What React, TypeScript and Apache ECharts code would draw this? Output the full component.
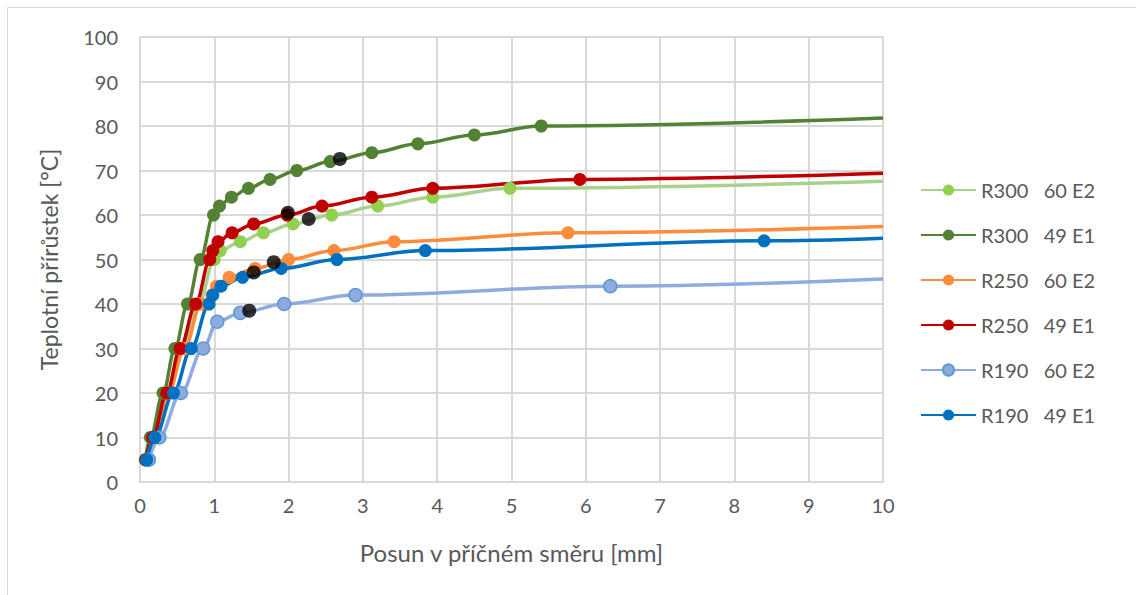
import React, { useEffect, useRef } from "react";
import * as echarts from "echarts";

const seriesNames = ["R300   60 E2", "R300   49 E1", "R250   60 E2", "R250   49 E1", "R190   60 E2", "R190   49 E1"];

const r300e2: number[][] = [[0.1,5],[0.2,10],[0.35,20],[0.56,30],[0.79,40],[1.0,50],[1.08,52],[1.35,54],[1.66,56],[2.06,58],[2.58,60],[3.2,62],[3.94,64],[4.98,66],[10,67.6]];
const r300e1: number[][] = [[0.07,5],[0.14,10],[0.31,20],[0.47,30],[0.64,40],[0.81,50],[0.99,60],[1.07,62],[1.23,64],[1.46,66],[1.75,68],[2.11,70],[2.56,72],[3.12,74],[3.74,76],[4.5,78],[5.4,80],[10,81.8]];
const r250e2: number[][] = [[0.1,5],[0.2,10],[0.38,20],[0.6,30],[0.82,40],[0.97,42],[1.03,44],[1.2,46],[1.55,48],[2.0,50],[2.61,52],[3.42,54],[5.76,56],[10,57.4]];
const r250e1: number[][] = [[0.08,5],[0.17,10],[0.36,20],[0.54,30],[0.75,40],[0.94,50],[0.98,52],[1.05,54],[1.24,56],[1.53,58],[1.98,60],[2.45,62],[3.12,64],[3.94,66],[5.92,68],[10,69.4]];
const r190e2: number[][] = [[0.12,5],[0.26,10],[0.55,20],[0.85,30],[1.04,36],[1.35,38],[1.94,40],[2.9,42],[6.33,44],[10,45.6]];
const r190e1: number[][] = [[0.09,5],[0.2,10],[0.45,20],[0.69,30],[0.93,40],[0.98,42],[1.09,44],[1.38,46],[1.9,48],[2.65,50],[3.84,52],[8.4,54.2],[10,54.8]];
const blackPoints: number[][] = [[2.69,72.6],[1.99,60.5],[2.27,59.1],[1.8,49.4],[1.53,47.1],[1.47,38.5]];

const xTicks = [0, 10, 1];
const yTicks = [0, 100, 10];

const FONT = "Lato, 'Open Sans', sans-serif";

function mk(name: string, data: number[][], line: string, fill: string, border: string) {
  return {
    name,
    type: "line",
    smooth: 0.35,
    smoothMonotone: "x",
    symbol: "circle",
    symbolSize: 13,
    showSymbol: true,
    lineStyle: { color: line, width: 3.5 },
    itemStyle: { color: fill, borderColor: border, borderWidth: border === fill ? 0 : 1.5 },
    data: data.map((p, i) => (i === data.length - 1 ? { value: p, symbol: "none" } : { value: p })),
    emphasis: { disabled: true },
  };
}

export default function App() {
  const ref = useRef<HTMLDivElement>(null);
  useEffect(() => {
    document.body.style.margin = "0";
    const chart = echarts.init(ref.current!, undefined, { renderer: "svg" });
    chart.setOption({
      animation: false,
      backgroundColor: "#ffffff",
      textStyle: { fontFamily: FONT },
      graphic: [
        { type: "rect", shape: { x: 7.5, y: 7.5, width: 1200, height: 700 }, style: { fill: "none", stroke: "#D9D9D9", lineWidth: 1 }, silent: true },
      ],
      grid: { left: 140, right: 253, top: 37, bottom: 113 },
      legend: {
        orient: "vertical",
        left: 915,
        top: 175,
        itemWidth: 55,
        itemHeight: 14,
        itemGap: 25,
        data: seriesNames,
        textStyle: { fontSize: 20, color: "#595959", fontFamily: FONT },
      },
      xAxis: {
        type: "value",
        min: xTicks[0],
        max: xTicks[1],
        interval: xTicks[2],
        name: "Posun v příčném směru [mm]",
        nameLocation: "middle",
        nameGap: 58,
        nameTextStyle: { fontSize: 24, color: "#595959", fontFamily: FONT },
        axisLine: { show: true, lineStyle: { color: "#D9D9D9", width: 2 } },
        axisTick: { show: false },
        axisLabel: { fontSize: 20, color: "#595959", margin: 13, fontFamily: FONT },
        splitLine: { show: true, lineStyle: { color: "#D9D9D9", width: 2 } },
      },
      yAxis: {
        type: "value",
        min: yTicks[0],
        max: yTicks[1],
        interval: yTicks[2],
        name: "Teplotní přírůstek [°C]",
        nameLocation: "middle",
        nameGap: 80,
        nameRotate: 90,
        nameTextStyle: { fontSize: 23, color: "#595959", fontFamily: FONT },
        axisLine: { show: false },
        axisTick: { show: false },
        axisLabel: { fontSize: 20, color: "#595959", margin: 22, fontFamily: FONT },
        splitLine: { show: true, lineStyle: { color: "#D9D9D9", width: 2 } },
      },
      series: [
        mk(seriesNames[0], r300e2, "#A9D18E", "#92D050", "#92D050"),
        mk(seriesNames[1], r300e1, "#548235", "#548235", "#548235"),
        mk(seriesNames[2], r250e2, "#FF8C3C", "#FF8C3C", "#FF8C3C"),
        mk(seriesNames[3], r250e1, "#C00000", "#C00000", "#C00000"),
        mk(seriesNames[4], r190e2, "#8FAADC", "#8FAADC", "#5B9BD5"),
        mk(seriesNames[5], r190e1, "#0070C0", "#0070C0", "#0070C0"),
        {
          name: "black",
          type: "scatter",
          symbol: "circle",
          symbolSize: 14,
          itemStyle: { color: "#000000" },
          data: blackPoints,
          z: 10,
          emphasis: { disabled: true },
        },
      ],
    });
    return () => chart.dispose();
  }, []);
  return <div ref={ref} style={{ position: "absolute", left: 0, top: 0, width: 1136, height: 595 }} />;
}
